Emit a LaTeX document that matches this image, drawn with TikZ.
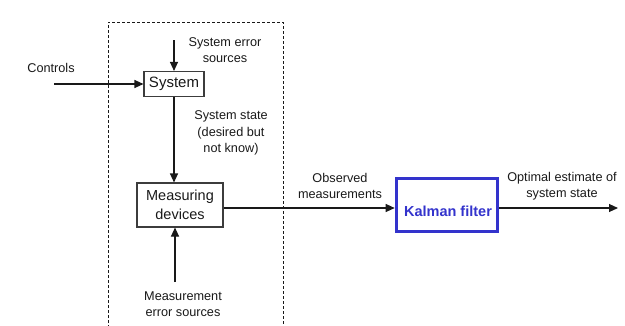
\documentclass[tikz,border=0pt]{standalone}
\usepackage{fontspec}
\setmainfont{Liberation Sans}
\usetikzlibrary{arrows.meta}
\definecolor{kblue}{RGB}{51,51,204}
\definecolor{ink}{RGB}{25,25,25}
\begin{document}
\begin{tikzpicture}[x=1pt,y=-1pt,
  lbl/.style={text=ink,font=\fontsize{12.7}{16.5}\selectfont,align=center,inner sep=0pt},
  blk/.style={draw=ink!85,line width=1.1pt,inner sep=0pt,text=ink,font=\fontsize{15}{16}\selectfont,align=center},
  flow/.style={draw=ink,line width=1.1pt,-{Triangle[length=9pt,width=8pt]}}]
\useasboundingbox (0,0) rectangle (625,325);
% dashed frame around the plant
\draw[ink,line width=1pt,dash pattern=on 3pt off 2pt] (108,328) -- (108,22) -- (283,22) -- (283,328);
% blocks
\node[blk,minimum width=60pt,minimum height=25pt] (sys) at (174,84) {System};
\node[blk,minimum width=86pt,minimum height=44pt,font=\fontsize{14.5}{19}\selectfont] (meas) at (180,205) {Measuring\\devices};
\node[draw=kblue,line width=3.6pt,minimum width=101pt,minimum height=53pt,inner sep=0pt] (kf) at (447,205) {};
\node[text=kblue,font=\bfseries\fontsize{14.5}{16}\selectfont,inner sep=0pt] (kft) at (448,211) {Kalman filter};
% free ends
\coordinate (cin) at (54,84);
\coordinate (esrc) at (174,40);
\coordinate (msrc) at (175,282);
\coordinate (out) at (618,208);
% labels
\node[lbl] (lctl) at (51,68) {Controls};
\node[lbl] (lerr) at (225,50) {System error\\sources};
\node[lbl] (lstate) at (231,133) {System state\\(desired but\\not know)};
\node[lbl] (lmerr) at (183,304) {Measurement\\error sources};
\node[lbl] (lobs) at (340,186) {Observed\\measurements};
\node[lbl] (lopt) at (562,186) {Optimal estimate of\\system state};
% connectors
\draw[flow] (cin) -- (sys.west |- cin);
\draw[flow] (esrc) -- (sys.north -| esrc);
\draw[flow] (sys.south -| esrc) -- (meas.north -| esrc);
\draw[flow] (msrc) -- (meas.south -| msrc);
\draw[flow] (meas.east |- out) -- (kf.west |- out);
\draw[flow] (kf.east |- out) -- (out);
\end{tikzpicture}
\end{document}
